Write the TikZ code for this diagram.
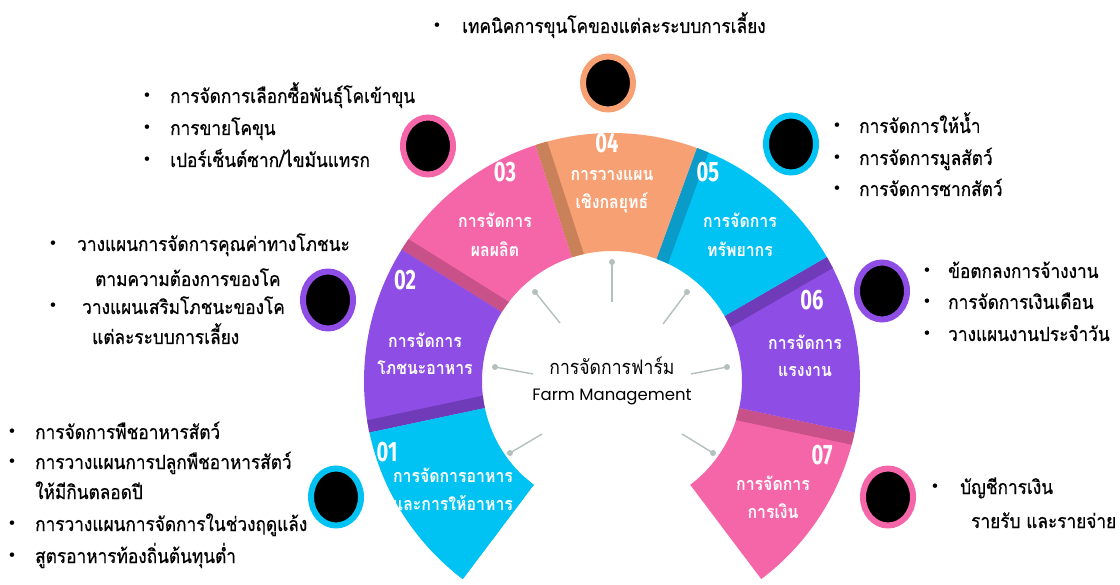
\documentclass[tikz,border=0pt]{standalone}
\usepackage{fontspec}
\newfontfamily\thai[Script=Thai,FakeStretch=0.88,FakeBold=0.6]{Loma}
\newfontfamily\thaib[Script=Thai,FakeStretch=0.88]{Loma}
\newfontfamily\thaic[Script=Thai,FakeStretch=0.88]{Loma}
\newfontfamily\numf{Fira Sans}
\newfontfamily\latf{Poppins}
\usetikzlibrary{calc,shapes.geometric}
\definecolor{cyanc}{HTML}{00C2F3}
\definecolor{cyand}{HTML}{0B9BC9}
\definecolor{purc}{HTML}{8E4DE4}
\definecolor{purd}{HTML}{6F3BB8}
\definecolor{pinkc}{HTML}{F566A9}
\definecolor{pinkd}{HTML}{C95189}
\definecolor{orc}{HTML}{F7A073}
\definecolor{ord}{HTML}{C98159}
\definecolor{spoke}{HTML}{B4C0BE}
\tikzset{
  bt/.style={anchor=base west, inner sep=0pt, font=\thai\fontsize{19.6}{22}\selectfont},
  bul/.style={anchor=center, inner sep=0pt, font=\fontsize{20}{20}\selectfont},
  lab/.style={anchor=center, inner sep=0pt, text=white, font=\thaib\bfseries\fontsize{18}{20}\selectfont},
  num/.style={anchor=center, inner sep=0pt, text=white, font=\numf\bfseries\fontsize{28}{28}\selectfont},
  ring/.style={ellipse, fill=black, line width=6pt, minimum width=50pt, minimum height=57pt, inner sep=0pt},
  dotc/.style={circle, fill=spoke, inner sep=0pt, minimum size=6pt},
  spk/.style={draw=spoke, line width=1.4pt}
}
\begin{document}
\begin{tikzpicture}[x=1pt,y=1pt]
\useasboundingbox (0,0) rectangle (1120,-585);
\fill[white] (0,0) rectangle (1120,-585);
\coordinate (C) at (612,-381);
% segments
\foreach \a/\b/\c/\d in {-53/-12/pinkc/pinkd, -12/30/purc/purd, 30/70/cyanc/cyand, 70/108/orc/ord, 108/148/pinkc/pinkd, 148/192/purc/purd, 192/233/cyanc/cyanc}{
  \fill[\c] ($(C)+(\a:248)$) arc[start angle=\a, end angle=\b, radius=248] -- ($(C)+(\b:130)$) arc[start angle=\b, end angle=\a, radius=130] -- cycle;
  \begin{scope}
    \clip ($(C)+(\a:248)$) arc[start angle=\a, end angle=\b, radius=248] -- ($(C)+(\b:130)$) arc[start angle=\b, end angle=\a, radius=130] -- cycle;
    \draw[\d, line width=25pt] (C) -- ($(C)+(\b:270)$);
  \end{scope}
}
% spokes
\foreach \n/\px/\py/\qx/\qy in {s1/612/-262/612/-302, s2/535/-292/560/-323, s3/687/-292/663/-324, s4/495/-367/533/-374, s5/727/-367/691/-374, s6/510/-453/542/-434, s7/713/-453/682/-434}{
  \node[dotc] (\n d) at (\px,\py) {};
  \coordinate (\n e) at (\qx,\qy);
  \draw[spk] (\n d.center) -- (\n e);
}
% centre title
\node[anchor=center, inner sep=0pt, font=\thaic\fontsize{20}{22}\selectfont] (t1) at (612,-366) {การจัดการฟาร์ม};
\node[anchor=center, inner sep=0pt, font=\latf\fontsize{16.5}{19}\selectfont] (t2) at (612,-397) {Farm Management};
% numbers
\node[num] (n1) at (387,-452) {\scalebox{0.72}[1]{01}};
\node[num] (n2) at (405,-280) {\scalebox{0.72}[1]{02}};
\node[num] (n3) at (505,-172) {\scalebox{0.72}[1]{03}};
\node[num] (n4) at (607,-143) {\scalebox{0.72}[1]{04}};
\node[num] (n5) at (708,-172) {\scalebox{0.72}[1]{05}};
\node[num] (n6) at (812,-300) {\scalebox{0.72}[1]{06}};
\node[num] (n7) at (822,-455) {\scalebox{0.72}[1]{07}};
% segment labels
\node[lab] (l1a) at (453,-475) {การจัดการอาหาร};
\node[lab] (l1b) at (453,-503) {และการให้อาหาร};
\node[lab] (l2a) at (425,-340) {การจัดการ};
\node[lab] (l2b) at (425,-368) {โภชนะอาหาร};
\node[lab] (l3a) at (495,-220) {การจัดการ};
\node[lab] (l3b) at (495,-249) {ผลผลิต};
\node[lab] (l4a) at (612,-175) {การวางแผน};
\node[lab] (l4b) at (612,-203) {เชิงกลยุทธ์};
\node[lab] (l5a) at (740,-220) {การจัดการ};
\node[lab] (l5b) at (740,-249) {ทรัพยากร};
\node[lab] (l6a) at (805,-342) {การจัดการ};
\node[lab] (l6b) at (805,-371) {แรงงาน};
\node[lab] (l7a) at (773,-483) {การจัดการ};
\node[lab] (l7b) at (773,-511) {การเงิน};
% rings
\node[ring, draw=cyanc] (r1) at (336,-497) {};
\node[ring, draw=purc] (r2) at (328,-300) {};
\node[ring, draw=pinkc] (r3) at (428,-146) {};
\node[ring, draw=orc, minimum height=53pt] (r4) at (608,-83) {};
\node[ring, draw=cyanc] (r5) at (791,-144) {};
\node[ring, draw=purc] (r6) at (882,-291) {};
\node[ring, draw=pinkc] (r7) at (888,-497) {};
% top list (04)
\node[bul] (b4a) at (437,-27) {\textbullet};
\node[bt] (x4a) at (462,-33) {เทคนิคการขุนโคของแต่ละระบบการเลี้ยง};
% list 03
\node[bul] (b3a) at (147,-97) {\textbullet};
\node[bul] (b3b) at (147,-129) {\textbullet};
\node[bul] (b3c) at (147,-161) {\textbullet};
\node[bt] (x3a) at (170,-103) {การจัดการเลือกซื้อพันธุ์โคเข้าขุน};
\node[bt] (x3b) at (170,-135) {การขายโคขุน};
\node[bt] (x3c) at (170,-167) {เปอร์เซ็นต์ซาก/ไขมันแทรก};
% list 02
\node[bul] (b2a) at (53,-245) {\textbullet};
\node[bul] (b2b) at (53,-307) {\textbullet};
\node[bt] (x2a) at (77,-251) {วางแผนการจัดการคุณค่าทางโภชนะ};
\node[bt] (x2b) at (95,-286) {ตามความต้องการของโค};
\node[bt] (x2c) at (82,-314) {วางแผนเสริมโภชนะของโค};
\node[bt] (x2d) at (92,-344) {แต่ละระบบการเลี้ยง};
% list 01
\node[bul] (b1a) at (12,-433) {\textbullet};
\node[bul] (b1b) at (12,-463) {\textbullet};
\node[bul] (b1c) at (12,-525) {\textbullet};
\node[bul] (b1d) at (12,-557) {\textbullet};
\node[bt] (x1a) at (35,-439) {การจัดการพืชอาหารสัตว์};
\node[bt] (x1b) at (35,-469) {การวางแผนการปลูกพืชอาหารสัตว์};
\node[bt] (x1c) at (35,-499) {ให้มีกินตลอดปี};
\node[bt] (x1d) at (35,-531) {การวางแผนการจัดการในช่วงฤดูแล้ง};
\node[bt] (x1e) at (35,-563) {สูตรอาหารท้องถิ่นต้นทุนต่ำ};
% list 05
\node[bul] (b5a) at (837,-127) {\textbullet};
\node[bul] (b5b) at (837,-159) {\textbullet};
\node[bul] (b5c) at (837,-190) {\textbullet};
\node[bt] (x5a) at (859,-133) {การจัดการให้น้ำ};
\node[bt] (x5b) at (859,-165) {การจัดการมูลสัตว์};
\node[bt] (x5c) at (859,-196) {การจัดการซากสัตว์};
% list 06
\node[bul] (b6a) at (927,-272) {\textbullet};
\node[bul] (b6b) at (927,-303) {\textbullet};
\node[bul] (b6c) at (927,-335) {\textbullet};
\node[bt] (x6a) at (948,-278) {ข้อตกลงการจ้างงาน};
\node[bt] (x6b) at (948,-309) {การจัดการเงินเดือน};
\node[bt] (x6c) at (948,-341) {วางแผนงานประจำวัน};
% list 07
\node[bul] (b7a) at (935,-488) {\textbullet};
\node[bt] (x7a) at (960,-494) {บัญชีการเงิน};
\node[bt] (x7b) at (971,-528) {รายรับ และรายจ่าย};
\end{tikzpicture}
\end{document}
